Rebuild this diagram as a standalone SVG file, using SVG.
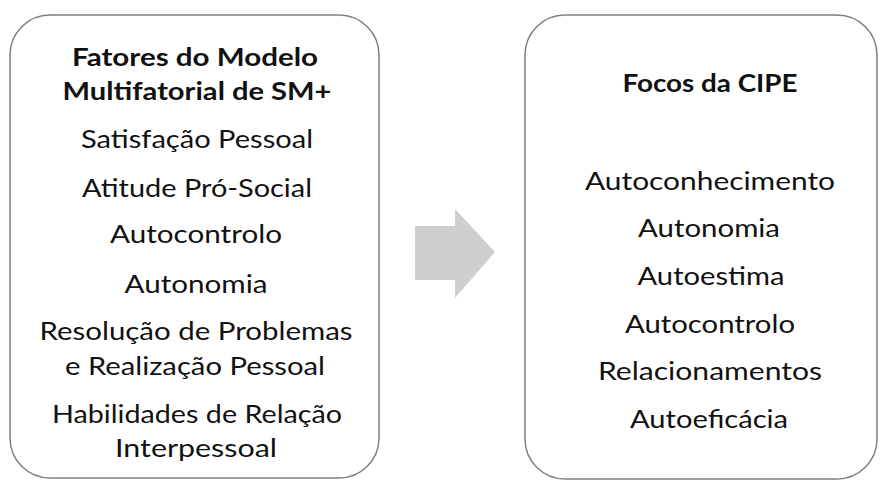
<svg xmlns="http://www.w3.org/2000/svg" width="882" height="482" viewBox="0 0 882 482">
<style>
.box{fill:#ffffff;stroke:#808080;stroke-width:1.5}
text{font-family:Lato,"Open Sans","Liberation Sans",sans-serif;font-size:25px;fill:#111111;text-anchor:middle}
.t{font-weight:bold}
.arrow{fill:#cfcfcf}
</style>
<rect width="882" height="482" fill="#ffffff"/>
<g id="left-node">
<rect class="box" x="10" y="15" width="369" height="463" rx="40" ry="40"/>
<text class="t" x="195" y="66" textLength="246" lengthAdjust="spacingAndGlyphs">Fatores do Modelo</text>
<text class="t" x="197" y="100" textLength="269" lengthAdjust="spacingAndGlyphs">Multifatorial de SM+</text>
<text x="197" y="148" textLength="232" lengthAdjust="spacingAndGlyphs">Satisfação Pessoal</text>
<text x="197" y="197" textLength="230" lengthAdjust="spacingAndGlyphs">Atitude Pró-Social</text>
<text x="196" y="243" textLength="172" lengthAdjust="spacingAndGlyphs">Autocontrolo</text>
<text x="196" y="293" textLength="143" lengthAdjust="spacingAndGlyphs">Autonomia</text>
<text x="196" y="340" textLength="313" lengthAdjust="spacingAndGlyphs">Resolução de Problemas</text>
<text x="195" y="375" textLength="260" lengthAdjust="spacingAndGlyphs">e Realização Pessoal</text>
<text x="197" y="423" textLength="290" lengthAdjust="spacingAndGlyphs">Habilidades de Relação</text>
<text x="196" y="457" textLength="162" lengthAdjust="spacingAndGlyphs">Interpessoal</text>
</g>
<g id="connectors">
<polygon class="arrow" points="415,226 455,226 455,209 495,252 455,298 455,280 415,280"/>
</g>
<g id="right-node">
<rect class="box" x="525" y="15" width="352" height="464" rx="40" ry="40"/>
<text class="t" x="710" y="92" textLength="175" lengthAdjust="spacingAndGlyphs">Focos da CIPE</text>
<text x="710" y="190" textLength="250" lengthAdjust="spacingAndGlyphs">Autoconhecimento</text>
<text x="709" y="237" textLength="142" lengthAdjust="spacingAndGlyphs">Autonomia</text>
<text x="711" y="285" textLength="147" lengthAdjust="spacingAndGlyphs">Autoestima</text>
<text x="710" y="333" textLength="170" lengthAdjust="spacingAndGlyphs">Autocontrolo</text>
<text x="710" y="380" textLength="224" lengthAdjust="spacingAndGlyphs">Relacionamentos</text>
<text x="709" y="428" textLength="158" lengthAdjust="spacingAndGlyphs">Autoeficácia</text>
</g>
</svg>
